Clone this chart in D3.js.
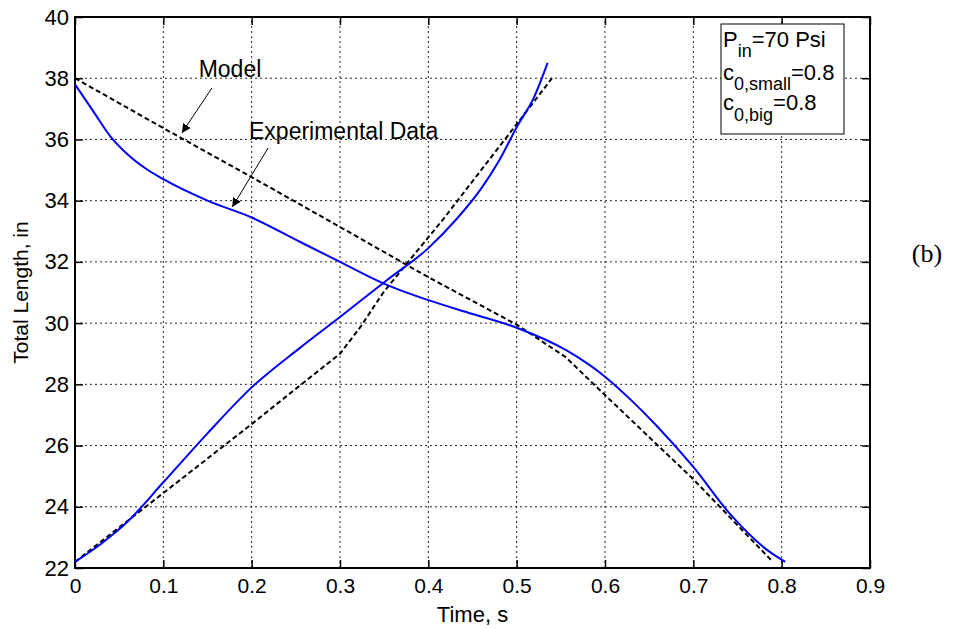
<!DOCTYPE html>
<html lang="en">
<head>
<meta charset="utf-8">
<title>Total Length vs Time</title>
<script src="https://d3js.org/d3.v7.min.js"></script>
<style>
  body { margin: 0; background: #fff; }
</style>
</head>
<body>
<script>
// tick values
var xTicks = [0, 0.1, 0.2, 0.3, 0.4, 0.5, 0.6, 0.7, 0.8, 0.9];
var yTicks = [22, 24, 26, 28, 30, 32, 34, 36, 38, 40];

// experimental data (blue), contraction curve
var expDownTime = [0, 0.02, 0.04, 0.06, 0.08, 0.1, 0.15, 0.2, 0.255, 0.3, 0.349, 0.4, 0.45, 0.5, 0.557, 0.6, 0.629, 0.66, 0.7, 0.742, 0.783, 0.804];
var expDownLen  = [37.8, 36.95, 36.1, 35.5, 35.05, 34.7, 34.0, 33.45, 32.65, 32.0, 31.3, 30.75, 30.3, 29.85, 29.1, 28.25, 27.5, 26.6, 25.3, 23.75, 22.6, 22.2];

// experimental data (blue), extension curve
var expUpTime = [0, 0.03, 0.059, 0.1, 0.15, 0.2, 0.255, 0.3, 0.353, 0.4, 0.432, 0.46, 0.48, 0.5, 0.52, 0.535];
var expUpLen  = [22.2, 22.8, 23.5, 24.8, 26.4, 27.9, 29.2, 30.2, 31.4, 32.45, 33.4, 34.4, 35.3, 36.4, 37.4, 38.5];

// model (black dashed), contraction
var modDownTime = [0, 0.1, 0.2, 0.3, 0.4, 0.5, 0.555, 0.6, 0.7, 0.79];
var modDownLen  = [38, 36.37, 34.77, 33.14, 31.5, 29.95, 28.9, 27.65, 24.9, 22.2];

// model (black dashed), extension
var modUpTime = [0, 0.1, 0.2, 0.255, 0.3, 0.323, 0.349, 0.376, 0.417, 0.5, 0.54];
var modUpLen  = [22.2, 24.45, 26.7, 27.97, 29.0, 29.87, 31.0, 31.96, 33.4, 36.5, 38.0];

var width = 967, height = 629;
var margin = {left: 75, right: 97, top: 17, bottom: 61};
var sans = "'Liberation Sans', Arial, sans-serif";

var svg = d3.select("body").append("svg")
    .attr("width", width)
    .attr("height", height)
    .style("font-family", sans);

var x = d3.scaleLinear().domain([0, 0.9]).range([margin.left, width - margin.right]);
var y = d3.scaleLinear().domain([22, 40]).range([height - margin.bottom, margin.top]);

var x0 = x(0), x1 = x(0.9), y0 = y(22), y1 = y(40);

// grid
var grid = svg.append("g")
    .attr("stroke", "#222")
    .attr("stroke-width", 1)
    .attr("stroke-dasharray", "2,3");
grid.selectAll(".gx").data(xTicks.slice(1, -1)).enter().append("line")
    .attr("x1", d => x(d)).attr("x2", d => x(d))
    .attr("y1", y0).attr("y2", y1);
grid.selectAll(".gy").data(yTicks.slice(1, -1)).enter().append("line")
    .attr("y1", d => y(d)).attr("y2", d => y(d))
    .attr("x1", x0).attr("x2", x1);

// axes (ticks inward, labels outside)
var xAxis = d3.axisBottom(x).tickValues(xTicks).tickSize(-8).tickPadding(10)
    .tickFormat(d => d === 0 ? "0" : d3.format(".1f")(d));
var yAxis = d3.axisLeft(y).tickValues(yTicks).tickSize(-8).tickPadding(6)
    .tickFormat(d3.format("d"));

var gx = svg.append("g").attr("transform", "translate(0," + y0 + ")").call(xAxis);
var gy = svg.append("g").attr("transform", "translate(" + x0 + ",0)").call(yAxis);
svg.append("g").attr("transform", "translate(0," + y1 + ")")
    .call(d3.axisTop(x).tickValues(xTicks).tickSize(-8).tickFormat(""));
svg.append("g").attr("transform", "translate(" + x1 + ",0)")
    .call(d3.axisRight(y).tickValues(yTicks).tickSize(-8).tickFormat(""));

svg.selectAll(".domain").remove();
svg.selectAll(".tick line").attr("stroke", "#000").attr("stroke-width", 1.5);
gx.selectAll("text").attr("font-size", 21).style("font-family", sans);
gy.selectAll("text").attr("font-size", 22).style("font-family", sans);

// box
svg.append("rect")
    .attr("x", x0).attr("y", y1)
    .attr("width", x1 - x0).attr("height", y0 - y1)
    .attr("fill", "none").attr("stroke", "#000").attr("stroke-width", 2);

// curves
var smooth = d3.line().x(d => x(d[0])).y(d => y(d[1])).curve(d3.curveMonotoneX);
var straight = d3.line().x(d => x(d[0])).y(d => y(d[1]));

function pairs(t, v) { return t.map((d, i) => [d, v[i]]); }

svg.append("path").datum(pairs(modDownTime, modDownLen))
    .attr("d", straight).attr("fill", "none")
    .attr("stroke", "#000").attr("stroke-width", 2).attr("stroke-dasharray", "5,3");
svg.append("path").datum(pairs(modUpTime, modUpLen))
    .attr("d", straight).attr("fill", "none")
    .attr("stroke", "#000").attr("stroke-width", 2).attr("stroke-dasharray", "5,3");
svg.append("path").datum(pairs(expDownTime, expDownLen))
    .attr("d", smooth).attr("fill", "none")
    .attr("stroke", "#0000ff").attr("stroke-width", 2);
svg.append("path").datum(pairs(expUpTime, expUpLen))
    .attr("d", smooth).attr("fill", "none")
    .attr("stroke", "#0000ff").attr("stroke-width", 2);

// annotations
svg.append("defs").append("marker")
    .attr("id", "arrow")
    .attr("viewBox", "0 0 10 10")
    .attr("refX", 10).attr("refY", 5)
    .attr("markerWidth", 9).attr("markerHeight", 9)
    .attr("markerUnits", "userSpaceOnUse")
    .attr("orient", "auto")
    .append("path").attr("d", "M0,0 L10,5 L0,10 z").attr("fill", "#000");

var notes = [
  {text: "Model", tx: 0.140, ty: 38.04, from: [0.155, 37.68], to: [0.121, 36.21]},
  {text: "Experimental Data", tx: 0.197, ty: 36.01, from: [0.2186, 35.72], to: [0.178, 33.79]}
];
notes.forEach(function(n) {
  svg.append("text").attr("x", x(n.tx)).attr("y", y(n.ty))
     .attr("font-size", 23).text(n.text);
  svg.append("line")
     .attr("x1", x(n.from[0])).attr("y1", y(n.from[1]))
     .attr("x2", x(n.to[0])).attr("y2", y(n.to[1]))
     .attr("stroke", "#000").attr("stroke-width", 1)
     .attr("marker-end", "url(#arrow)");
});

// parameter box
var box = svg.append("g").attr("transform", "translate(721,24)");
box.append("rect").attr("width", 123).attr("height", 110)
    .attr("fill", "#fff").attr("stroke", "#000").attr("stroke-width", 1);
var t1 = box.append("text").attr("x", 2).attr("y", 23).attr("font-size", 22);
t1.append("tspan").text("P");
t1.append("tspan").attr("dy", 10).attr("font-size", 18).text("in");
t1.append("tspan").attr("dy", -10).text("=70 Psi");
var t2 = box.append("text").attr("x", 2).attr("y", 56).attr("font-size", 22);
t2.append("tspan").text("c");
t2.append("tspan").attr("dy", 10).attr("font-size", 18).text("0,small");
t2.append("tspan").attr("dy", -10).text("=0.8");
var t3 = box.append("text").attr("x", 2).attr("y", 86).attr("font-size", 22);
t3.append("tspan").text("c");
t3.append("tspan").attr("dy", 11).attr("font-size", 18).text("0,big");
t3.append("tspan").attr("dy", -11).text("=0.8");

// axis labels
svg.append("text")
    .attr("x", (x0 + x1) / 2).attr("y", 622)
    .attr("text-anchor", "middle").attr("font-size", 22)
    .text("Time, s");
svg.append("text")
    .attr("transform", "translate(28," + ((y0 + y1) / 2) + ") rotate(-90)")
    .attr("text-anchor", "middle").attr("font-size", 21)
    .text("Total Length, in");

svg.append("text")
    .attr("x", 927).attr("y", 262)
    .attr("text-anchor", "middle")
    .style("font-family", "'Liberation Serif', 'Times New Roman', serif")
    .attr("font-size", 26)
    .text("(b)");
</script>
</body>
</html>
